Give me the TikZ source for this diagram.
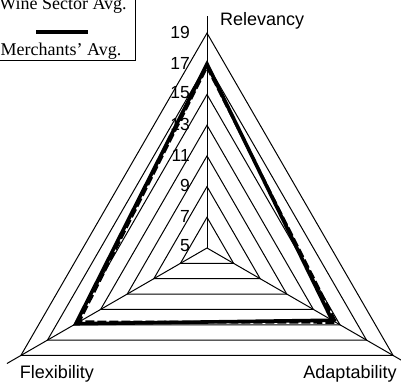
\documentclass[tikz,border=0pt]{standalone}
\usepackage{fontspec}
\setmainfont{Liberation Serif}
\setsansfont{Liberation Sans}
\usepackage{xcolor}
\usepackage{tikz}
\usetikzlibrary{calc}
\definecolor{ink}{HTML}{000000}
\tikzset{
  gridtri/.style={draw=ink, line width=1pt, line join=miter},
  axisline/.style={draw=ink, line width=1pt},
  axisname/.style={text=ink, font=\sffamily\fontsize{18}{18}\selectfont, inner sep=0pt},
  ticklabel/.style={text=ink, font=\sffamily\fontsize{17.5}{17.5}\selectfont, anchor=east, inner sep=0pt},
  wineline/.style={draw=ink, line width=2.6pt, dash pattern=on 9pt off 3pt, line join=miter},
  merchline/.style={draw=ink, line width=3.6pt, line join=miter},
  legbox/.style={draw=ink, line width=1pt},
  legtext/.style={text=ink, font=\fontsize{18}{18}\selectfont, inner sep=0pt, anchor=base}
}

\begin{document}
\begin{tikzpicture}[x=1pt, y=1pt]
  \useasboundingbox (0,0) rectangle (401,384);

  % grid triangles, one for each odd score
  \begin{scope}[shift={(207,136)}]
    \draw[gridtri] (90:30.7) -- (210:30.7) -- (330:30.7) -- cycle;
    \draw[gridtri] (90:61.4) -- (210:61.4) -- (330:61.4) -- cycle;
    \draw[gridtri] (90:92.1) -- (210:92.1) -- (330:92.1) -- cycle;
    \draw[gridtri] (90:122.8) -- (210:122.8) -- (330:122.8) -- cycle;
    \draw[gridtri] (90:153.5) -- (210:153.5) -- (330:153.5) -- cycle;
    \draw[gridtri] (90:184.2) -- (210:184.2) -- (330:184.2) -- cycle;
    \draw[gridtri] (90:214.9) -- (210:214.9) -- (330:214.9) -- cycle;

    \coordinate (o) at (0,0);
    \coordinate (rel) at (90:232);
    \coordinate (flex) at (210:231);
    \coordinate (adapt) at (330:231);

    % series
    \coordinate (wr) at (90:181);
    \coordinate (wf) at (210:147.5);
    \coordinate (wa) at (330:149);
    \coordinate (mr) at (90:184);
    \coordinate (mf) at (210:151.5);
    \coordinate (ma) at (330:144.5);
  \end{scope}

  \draw[axisline] (o) -- (rel);
  \draw[axisline] (o) -- (flex);
  \draw[axisline] (o) -- (adapt);

  \draw[wineline] (wr) -- (wa) -- (wf) -- cycle;
  \draw[merchline] (mr) -- (ma) -- (mf) -- cycle;

  \node[axisname, anchor=base west] (lrel) at (220,359) {Relevancy};
  \node[axisname, anchor=base] (lflex) at (57,6) {Flexibility};
  \node[axisname, anchor=base] (ladapt) at (350,6) {Adaptability};

  \node[ticklabel] (t5) at (190,138) {5};
  \node[ticklabel] (t7) at (190,168) {7};
  \node[ticklabel] (t9) at (190,199) {9};
  \node[ticklabel] (t11) at (190,229) {11};
  \node[ticklabel] (t13) at (190,260) {13};
  \node[ticklabel] (t15) at (190,291) {15};
  \node[ticklabel] (t17) at (190,321) {17};
  \node[ticklabel] (t19) at (190,352) {19};

  % legend
  \draw[legbox] (-2,324) rectangle (135,392);
  \node[legtext] (wine) at (63,374) {Wine Sector Avg.};
  \coordinate (key1) at (36,352);
  \coordinate (key2) at (88,352);
  \draw[merchline] (key1) -- (key2);
  \node[legtext] (merch) at (61,329) {Merchants' Avg.};
\end{tikzpicture}
\end{document}
